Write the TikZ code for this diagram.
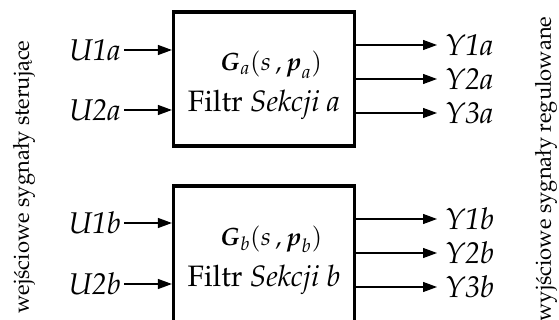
\documentclass[tikz,border=0pt]{standalone}
\usepackage[T1]{fontenc}
\usepackage{amsmath}
\usepackage{mathpazo}
\usetikzlibrary{arrows.meta}
\tikzset{
  sysbox/.style={draw, line width=3.2pt, minimum width=181pt, inner sep=0pt},
  sig/.style={line width=1.2pt, -{Triangle[length=14pt,width=10pt]}},
  sigin/.style={font=\fontsize{30}{33}\selectfont\itshape, anchor=east, inner xsep=3pt, inner ysep=0pt},
  sigout/.style={font=\fontsize{30}{33}\selectfont\itshape, anchor=west, inner xsep=8pt, inner ysep=0pt},
  boxtxt/.style={anchor=base, inner sep=0pt},
  sidetxt/.style={font=\fontsize{22}{24}\selectfont, rotate=90, inner sep=0pt}
}
\begin{document}
\begin{tikzpicture}[x=1pt,y=-1pt]
\useasboundingbox (0,0) rectangle (559,320);
\clip (0,0) rectangle (559,320);

% blocks
\node[sysbox, minimum height=134pt] (ba) at (264,79) {};
\node[sysbox, minimum height=136pt] (bb) at (264,254) {};

% block contents
\node[boxtxt, font=\fontsize{25}{28}\selectfont] (ga) at (271,71) {$\boldsymbol{G}_{a}(s\,,\boldsymbol{p}_{a})$};
\node[boxtxt, font=\fontsize{29.5}{32}\selectfont] (fa) at (264,112) {Filtr \textit{Sekcji a}};
\node[boxtxt, font=\fontsize{25}{28}\selectfont] (gb) at (271,245) {$\boldsymbol{G}_{b}(s\,,\boldsymbol{p}_{b})$};
\node[boxtxt, font=\fontsize{29.5}{32}\selectfont] (fb) at (264,286) {Filtr \textit{Sekcji b}};

% inputs
\node[sigin] (u1a) at (124,50) {U1a};
\node[sigin] (u2a) at (124,110) {U2a};
\node[sigin] (u1b) at (124,223) {U1b};
\node[sigin] (u2b) at (124,284) {U2b};
\foreach \u/\b in {u1a/ba,u2a/ba,u1b/bb,u2b/bb}
  \draw[sig] (\u.east) -- (\u.east -| \b.west);

% outputs
\node[sigout] (y1a) at (437,45) {Y1a};
\node[sigout] (y2a) at (437,79) {Y2a};
\node[sigout] (y3a) at (437,113) {Y3a};
\node[sigout] (y1b) at (437,219) {Y1b};
\node[sigout] (y2b) at (437,253) {Y2b};
\node[sigout] (y3b) at (437,287) {Y3b};
\foreach \y/\b in {y1a/ba,y2a/ba,y3a/ba,y1b/bb,y2b/bb,y3b/bb}
  \draw[sig] (\y.west -| \b.east) -- (\y.west);

% side captions
\node[sidetxt] (cin) at (24,177) {wej\'sciowe sygna\l{}y steruj\k{a}ce};
\node[sidetxt] (cout) at (546,169) {wyj\'sciowe sygna\l{}y regulowane};
\end{tikzpicture}
\end{document}
